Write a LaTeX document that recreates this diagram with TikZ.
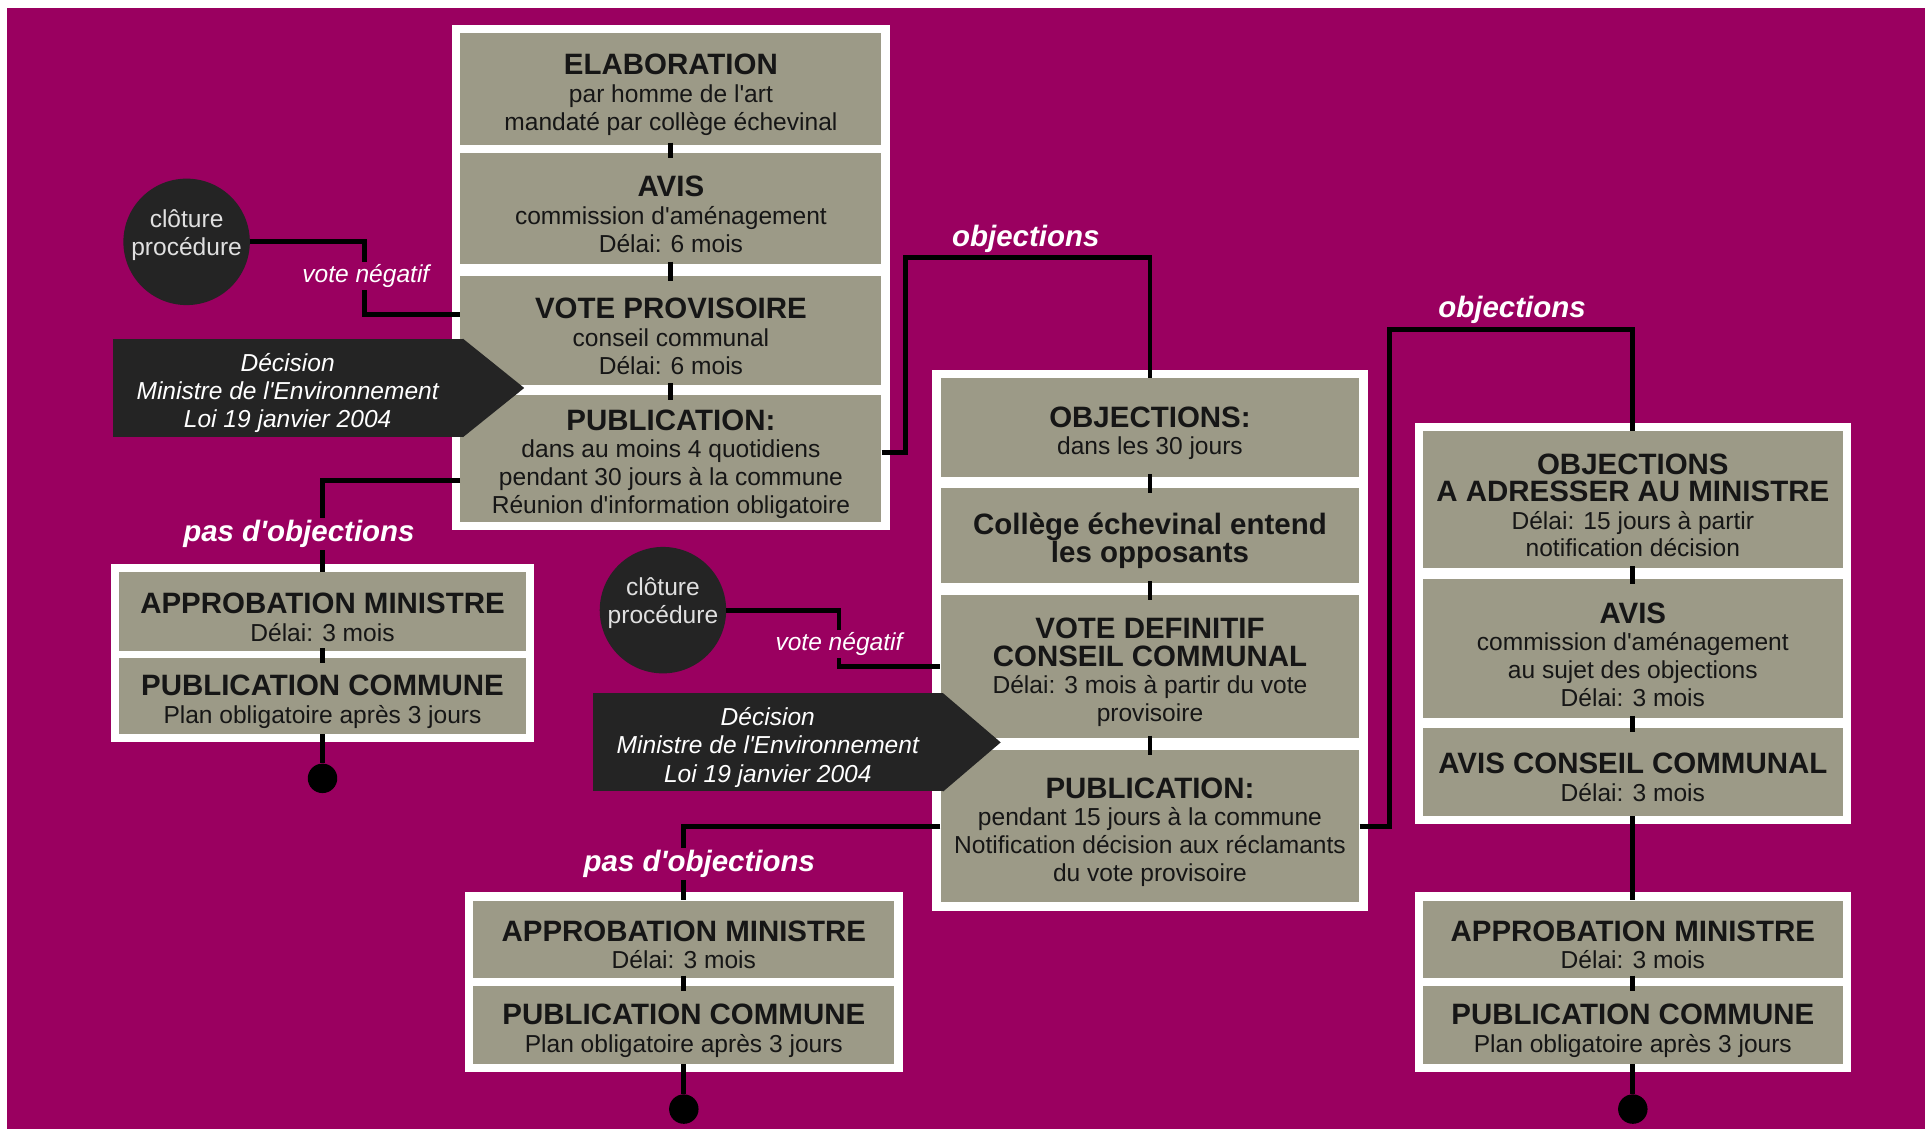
\documentclass[tikz,border=0pt]{standalone}
\usepackage{fontspec}
\setmainfont{Liberation Sans}
\usetikzlibrary{fit,backgrounds}

\definecolor{fond}{RGB}{154,0,96}
\definecolor{kaki}{RGB}{156,154,135}
\definecolor{sombre}{RGB}{36,36,36}
\definecolor{encre}{RGB}{22,22,22}

\newcommand{\tit}[1]{{\fontsize{24}{22.5}\selectfont\bfseries #1}}
\newcommand{\tet}[1]{{\fontsize{24}{22.5}\selectfont\bfseries\rule{0pt}{26pt}#1}}
\newcommand{\haut}[1]{\raisebox{5pt}[\height][\depth]{\begin{tabular}{@{}c@{}}#1\end{tabular}}}
\newcommand{\ap}{\textquotesingle}

\tikzstyle{etape}=[fill=kaki, text=encre, align=center, inner sep=0pt, font=\fontsize{20}{22.5}\selectfont]
\tikzstyle{cadre}=[fill=white, inner sep=6.5pt]
\tikzstyle{decision}=[fill=sombre, text=white, align=center, minimum width=285pt, font=\fontsize{20}{23}\selectfont\itshape]
\tikzstyle{cloture}=[circle, fill=sombre, text=white!88!black, inner sep=0pt, minimum size=103pt, font=\fontsize{20}{22.5}\selectfont]
\tikzstyle{etiquette}=[fill=fond, text=white, inner sep=2pt, font=\fontsize{20}{22}\selectfont\itshape]
\tikzstyle{objet}=[fill=fond, text=white, inner sep=2pt, font=\fontsize{24}{24}\selectfont\bfseries\itshape]
\tikzstyle{fin}=[circle, fill=black, minimum size=24pt, inner sep=0pt]

\begin{document}
\begin{tikzpicture}[x=1pt, y=-1pt]
\useasboundingbox (0,0) rectangle (1568,920);

% colonne 1
\node[etape, minimum width=343pt, minimum height=91pt] (elab) at (546.5,72.5) {\tet{ELABORATION}\\par homme de l\ap art\\mandaté par collège échevinal};
\node[etape, minimum width=343pt, minimum height=90pt] (avisA) at (546.5,170) {\tet{AVIS}\\commission d\ap aménagement\\Délai: 6 mois};
\node[etape, minimum width=343pt, minimum height=89pt] (voteA) at (546.5,269.3) {\tet{VOTE PROVISOIRE}\\conseil communal\\Délai: 6 mois};
\node[etape, minimum width=343pt, minimum height=103pt] (pubA) at (546.5,373.3) {\tet{PUBLICATION:}\\dans au moins 4 quotidiens\\pendant 30 jours à la commune\\Réunion d\ap information obligatoire};
\node[etape, minimum width=331pt, minimum height=64pt] (apprA) at (262.7,498) {\tet{APPROBATION MINISTRE}\\Délai: 3 mois};
\node[etape, minimum width=331pt, minimum height=62pt] (pcA) at (262.7,567) {\tet{PUBLICATION COMMUNE}\\Plan obligatoire après 3 jours};

% colonne 2
\node[etape, minimum width=341pt, minimum height=80pt] (objB) at (936.7,348.2) {\tet{OBJECTIONS:}\\dans les 30 jours};
\node[etape, minimum width=341pt, minimum height=77.5pt] (collB) at (936.7,436.3) {\tet{Collège échevinal entend}\\\tit{les opposants}};
\node[etape, minimum width=341pt, minimum height=116pt] (voteB) at (936.7,542.9) {\tet{VOTE DEFINITIF}\\\tit{CONSEIL COMMUNAL}\\Délai: 3 mois à partir du vote\\provisoire};
\node[etape, minimum width=341pt, minimum height=124pt] (pubB) at (936.7,673) {\tet{PUBLICATION:}\\pendant 15 jours à la commune\\Notification décision aux réclamants\\du vote provisoire};
\node[etape, minimum width=343pt, minimum height=63pt] (apprB) at (557,765) {\tet{APPROBATION MINISTRE}\\Délai: 3 mois};
\node[etape, minimum width=343pt, minimum height=63pt] (pcB) at (557,835) {\tet{PUBLICATION COMMUNE}\\Plan obligatoire après 3 jours};

% colonne 3
\node[etape, minimum width=342pt, minimum height=112pt] (objC) at (1330,407) {\tet{OBJECTIONS}\\\tit{A ADRESSER AU MINISTRE}\\Délai: 15 jours à partir\\notification décision};
\node[etape, minimum width=342pt, minimum height=113pt] (avisC) at (1330,528.5) {\tet{AVIS}\\commission d\ap aménagement\\au sujet des objections\\Délai: 3 mois};
\node[etape, minimum width=342pt, minimum height=72pt] (accC) at (1330,628.7) {\tet{AVIS CONSEIL COMMUNAL}\\Délai: 3 mois};
\node[etape, minimum width=342pt, minimum height=63pt] (apprC) at (1330,765) {\tet{APPROBATION MINISTRE}\\Délai: 3 mois};
\node[etape, minimum width=342pt, minimum height=63pt] (pcC) at (1330,835) {\tet{PUBLICATION COMMUNE}\\Plan obligatoire après 3 jours};

% decisions et clotures
\node[decision, minimum height=80pt] (decA) at (234.3,316) {\rule{0pt}{23pt}Décision\\Ministre de l\ap Environnement\\Loi 19 janvier 2004};
\fill[sombre] (decA.north east) -- ([xshift=50pt]decA.east) -- (decA.south east) -- cycle;
\node[decision, minimum height=77pt] (decB) at (625.4,604.7) {\rule{0pt}{23pt}Décision\\Ministre de l\ap Environnement\\Loi 19 janvier 2004};
\fill[sombre] (decB.north east) -- ([xshift=47pt]decB.east) -- (decB.south east) -- cycle;

\node[cloture] (cloA) at (152,197) {\haut{clôture\\procédure}};
\node[cloture] (cloB) at (540,497) {\haut{clôture\\procédure}};

\node[fin] (finA) at (262.7,634) {};
\node[fin] (finB) at (557,903.4) {};
\node[fin] (finC) at (1330,903.4) {};

\coordinate (coinA) at (737.5,210);
\coordinate (coinB) at (1131.5,268.4);

\begin{scope}[every path/.style={line width=4pt}]
       \draw[shorten <=-2pt, shorten >=-4pt] (elab.south) -- (avisA.north);
       \draw[shorten <=-2pt, shorten >=-4pt] (avisA.south) -- (voteA.north);
       \draw[shorten <=-2pt, shorten >=-4pt] (voteA.south) -- (pubA.north);
       \draw[shorten <=-2pt, shorten >=-4pt] (apprA.south) -- (pcA.north);
       \draw[shorten <=-2pt, shorten >=-4pt] (objB.south) -- (collB.north);
       \draw[shorten <=-2pt, shorten >=-4pt] (collB.south) -- (voteB.north);
       \draw[shorten <=-2pt, shorten >=-4pt] (voteB.south) -- (pubB.north);
       \draw[shorten <=-2pt, shorten >=-4pt] (apprB.south) -- (pcB.north);
       \draw[shorten <=-2pt, shorten >=-4pt] (objC.south) -- (avisC.north);
       \draw[shorten <=-2pt, shorten >=-4pt] (avisC.south) -- (accC.north);
       \draw[shorten <=-2pt, shorten >=-4pt] (apprC.south) -- (pcC.north);

       \draw (cloA.east) -| ([xshift=-78pt, yshift=13pt]voteA.west) -- ([yshift=13pt]voteA.west);
       \draw ([yshift=5pt]pubA.east) -| (coinA) -| (objB.north);
       \draw ([yshift=-18pt]pubA.west) -| (apprA.north);
       \draw (pcA.south) -- (finA);

       \draw (cloB.east) -| ([xshift=-82.6pt]voteB.west) -- (voteB.west);
       \draw (pubB.east) -| (coinB) -| (objC.north);
       \draw (pubB.west) -| (apprB.north);
       \draw (pcB.south) -- (finB);

       \draw (accC.south) -- (apprC.north);
       \draw (pcC.south) -- (finC);
\end{scope}

\node[etiquette] (negA) at (298,225) {vote négatif};
\node[etiquette] (negB) at (683.4,524.5) {vote négatif};
\node[objet] (objetA) at (835.5,194.5) {objections};
\node[objet] (objetB) at (1231.6,252.5) {objections};
\node[objet] (pasA) at (243.5,435) {pas d\ap objections};
\node[objet] (pasB) at (569.6,704) {pas d\ap objections};

\begin{scope}[on background layer]
\fill[white] (0,0) rectangle (1568,920);
\fill[fond] (5.7,6.5) rectangle (1568,920);
\node[cadre, fit=(elab)(pubA)] (cadreA) {};
\node[cadre, fit=(apprA)(pcA)] (cadreA2) {};
\node[cadre, fit=(objB)(pubB)] (cadreB) {};
\node[cadre, fit=(apprB)(pcB)] (cadreB2) {};
\node[cadre, fit=(objC)(accC)] (cadreC) {};
\node[cadre, fit=(apprC)(pcC)] (cadreC2) {};
\end{scope}
\end{tikzpicture}
\end{document}
